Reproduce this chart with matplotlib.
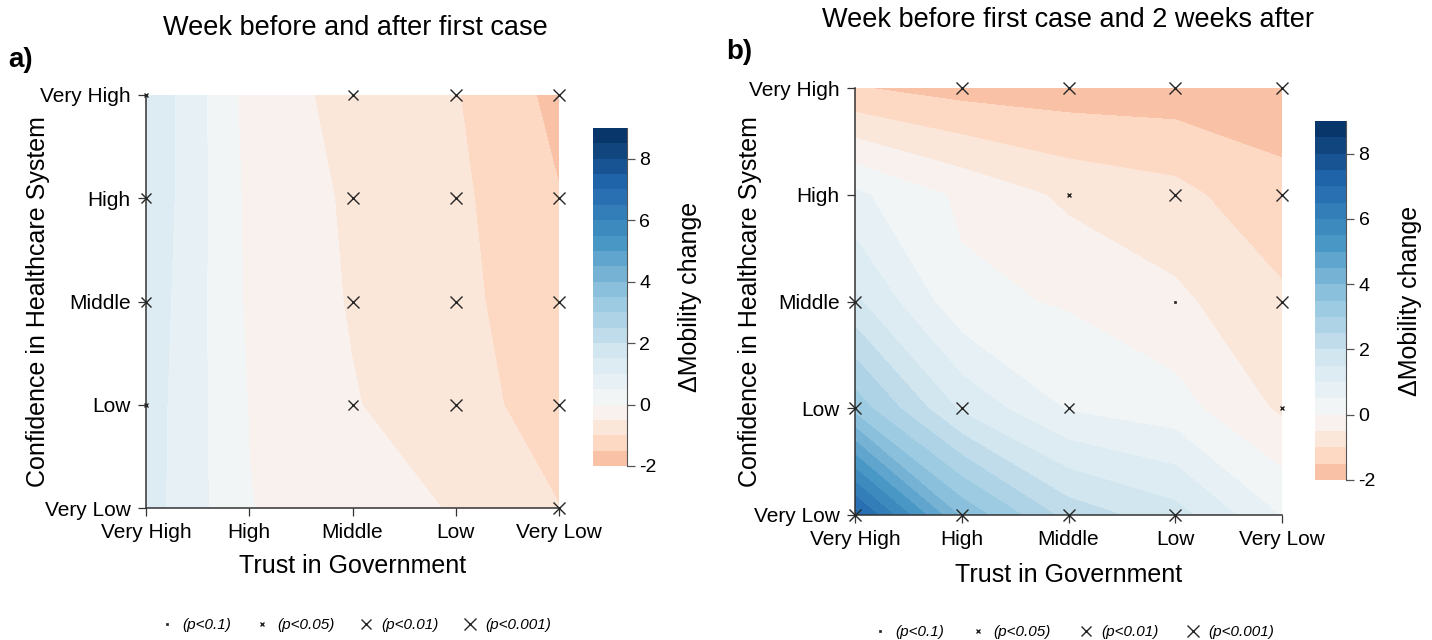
import numpy as np
import matplotlib
matplotlib.use("Agg")
import matplotlib.pyplot as plt
from matplotlib.colors import TwoSlopeNorm
from matplotlib.lines import Line2D

plt.rcParams['font.family'] = ['Liberation Sans', 'DejaVu Sans']
plt.rcParams['axes.unicode_minus'] = False

trust_labels = ["Very High", "High", "Middle", "Low", "Very Low"]
conf_labels = ["Very Low", "Low", "Middle", "High", "Very High"]

# rows: confidence Very Low -> Very High ; columns: trust Very High -> Very Low
mobility_a = [
    [1.23, 0.02, -0.38, -0.52, -0.99],
    [1.26, -0.02, -0.47, -0.80, -1.23],
    [1.34, -0.09, -0.54, -0.84, -1.40],
    [1.42, -0.12, -0.58, -0.895, -1.477],
    [1.46, -0.18, -0.69, -0.97, -1.65],
]
signif_a = [
    [0, 0, 0, 0, 4],
    [2, 0, 3, 4, 4],
    [3, 0, 4, 4, 4],
    [3, 0, 4, 4, 4],
    [2, 0, 3, 4, 4],
]
mobility_b = [
    [7.2, 3.9, 2.3, 1.7, 0.47],
    [3.3, 1.4, 0.45, 0.2, -0.59],
    [1.6, 0.12, -0.05, -0.40, -0.9],
    [0.6, -0.1, -0.61, -0.84, -1.4],
    [-1.47, -1.70, -1.77, -1.78, -1.69],
]
signif_b = [
    [4, 4, 4, 4, 0],
    [4, 4, 3, 0, 2],
    [4, 0, 0, 1, 4],
    [0, 0, 2, 4, 4],
    [0, 4, 4, 4, 4],
]
titles = ["Week before and after first case", "Week before first case and 2 weeks after"]
panel_tags = ["a)", "b)"]
legend_labels = ["(p<0.1)", "(p<0.05)", "(p<0.01)", "(p<0.001)"]
levels = np.arange(-2, 9.01, 0.5)
cbar_ticks = [-2, 0, 2, 4, 6, 8]

mids = (levels[:-1] + levels[1:]) / 2
norm = TwoSlopeNorm(vmin=-6, vcenter=0, vmax=9)
band_colors = plt.get_cmap('RdBu')(norm(mids))

marker_styles = {1: ('s', 1.8, 0.5), 2: ('x', 3.4, 1.0), 3: ('x', 7.0, 1.0), 4: ('x', 9.3, 1.0)}
mcol = '#262626'

fig = plt.figure(figsize=(14.32, 6.4), dpi=100)
W, H = 1432, 640

def frac(x0, y0, x1, y1):
    return [x0 / W, 1 - y1 / H, (x1 - x0) / W, (y1 - y0) / H]

layouts = [
    dict(ax=frac(146, 95, 559, 508), cax=frac(593, 128, 627, 466),
         title=(355, 28), tag=(8, 60), xl=-0.140, yl=-0.262, cl=2.85, leg=(355, 625),
         cs=1.55),
    dict(ax=frac(855, 88, 1282, 515), cax=frac(1315, 121, 1346, 480),
         title=(1068, 20), tag=(726, 52), xl=-0.140, yl=-0.246, cl=3.06, leg=(1073, 632),
         cs=1.75),
]

for data, sig, title, tag, lay in zip([mobility_a, mobility_b], [signif_a, signif_b],
                                      titles, panel_tags, layouts):
    Z = np.array(data)
    S = np.array(sig)
    ax = fig.add_axes(lay['ax'])
    xs = np.arange(len(trust_labels))
    ys = np.arange(len(conf_labels))
    X, Y = np.meshgrid(xs, ys)
    cf = ax.contourf(X, Y, Z, levels=levels, colors=band_colors)
    for code, (mk, ms, mew) in marker_styles.items():
        yy, xx = np.where(S == code)
        ax.plot(xs[xx], ys[yy], linestyle='none', marker=mk, ms=ms, mew=mew,
                color=mcol, mfc=mcol, clip_on=False, zorder=5)
    ax.set_xlim(0, 4)
    ax.set_ylim(0, 4)
    ax.set_xticks(xs, trust_labels)
    ax.set_yticks(ys, conf_labels)
    for s in ['top', 'right']:
        ax.spines[s].set_visible(False)
    for s in ['left', 'bottom']:
        ax.spines[s].set_color('#333333')
        ax.spines[s].set_linewidth(1.1)
    ax.tick_params(direction='out', length=6, width=0.9, color='#333333',
                   labelsize=15, pad=5)
    ax.set_xlabel("Trust in Government", fontsize=18, va='center')
    ax.xaxis.set_label_coords(0.5, lay['xl'])
    ax.set_ylabel("Confidence in Healthcare System", fontsize=18, va='center')
    ax.yaxis.set_label_coords(lay['yl'], 0.5)

    cax = fig.add_axes(lay['cax'])
    cb = fig.colorbar(cf, cax=cax, ticks=cbar_ticks)
    cb.outline.set_visible(False)
    cax.spines['right'].set_visible(True)
    cax.spines['right'].set_color('#555555')
    cax.tick_params(direction='out', length=6, width=0.9, color='#555555',
                    labelsize=14, pad=3)
    cb.set_label("\u0394Mobility change", fontsize=18, va='center')
    cax.yaxis.set_label_coords(lay['cl'], 0.5)

    fig.text(lay['title'][0] / W, 1 - lay['title'][1] / H, title, fontsize=19.5,
             ha='center', va='center')
    fig.text(lay['tag'][0] / W, 1 - lay['tag'][1] / H, tag, fontsize=20,
             fontweight='bold', ha='left', va='center')

    handles = [Line2D([], [], linestyle='none', marker=marker_styles[c][0],
                      ms=marker_styles[c][1], mew=marker_styles[c][2],
                      color=mcol, mfc=mcol) for c in [1, 2, 3, 4]]
    fig.legend(handles, legend_labels, loc='center',
               bbox_to_anchor=(lay['leg'][0] / W, 1 - lay['leg'][1] / H),
               ncol=4, frameon=False, handlelength=1.0, handletextpad=0.5,
               columnspacing=lay['cs'], prop={'style': 'italic', 'size': 11})

fig.savefig("out.png", dpi=100)
